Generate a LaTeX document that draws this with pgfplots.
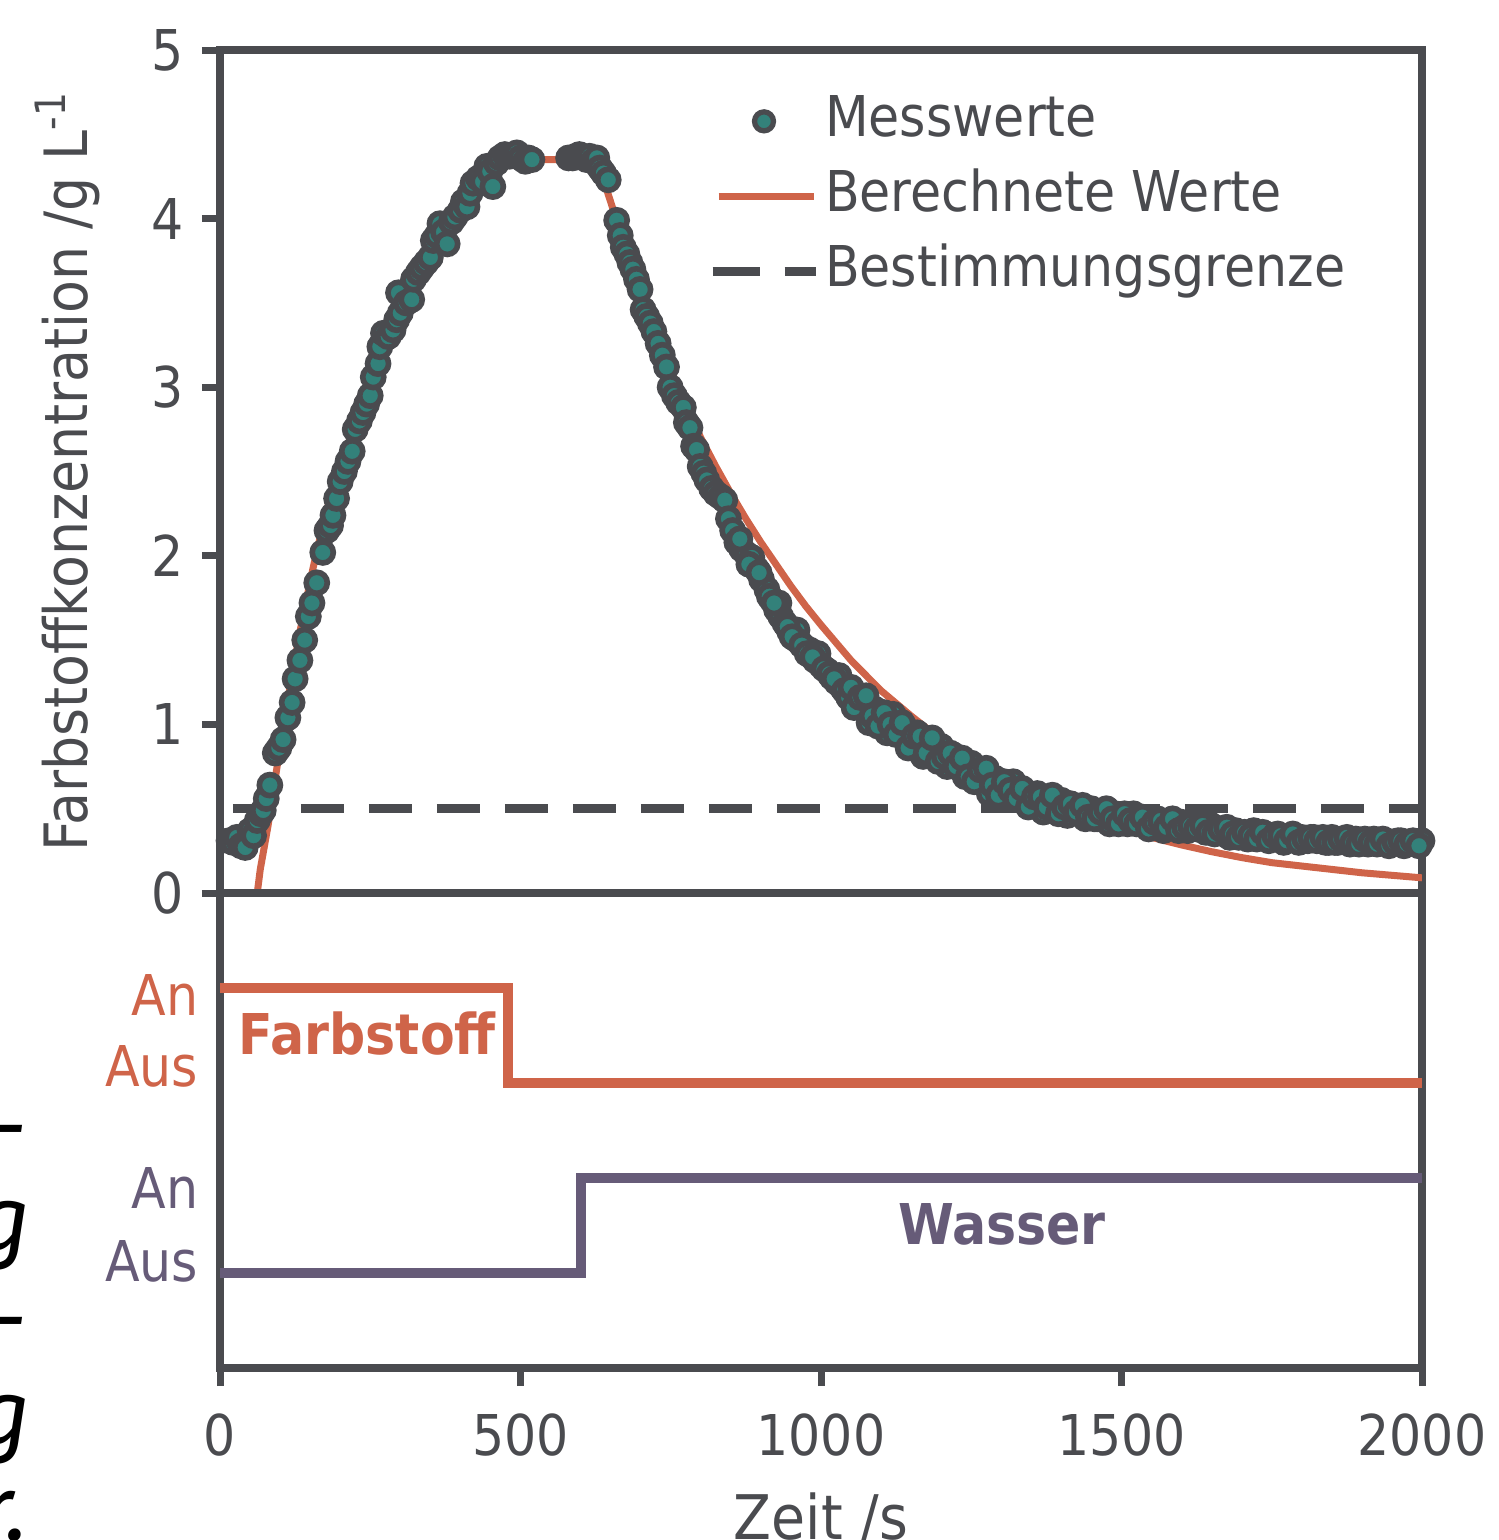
\documentclass[border=0pt]{standalone}
\usepackage{fontspec}
\setmainfont{DejaVu Sans}[FakeStretch=0.9]
\newfontfamily\sidefont{Fira Sans}
\usepackage{pgfplots}
\pgfplotsset{compat=1.18}

\definecolor{axgray}{HTML}{4A4B4F}
\definecolor{farb}{HTML}{CF6449}
\definecolor{mteal}{HTML}{33817A}
\definecolor{wasser}{HTML}{665B78}

\pgfplotsset{
  myaxis/.style={
    scale only axis, width=12.02cm, xmin=0, xmax=2000,
    axis line style={line width=0.08cm, axgray},
    tick style={line width=0.07cm, axgray},
    major tick length=0.18cm, tick align=outside,
    tick label style={font=\fontsize{16}{19}\selectfont, text=axgray},
  },
  legmark/.style={legend image code/.code={%
    \draw[##1] plot coordinates {(0.515cm,0cm)};
    \path (0cm,0cm) (1.03cm,0cm);}},
  legline/.style={legend image code/.code={%
    \draw[##1] (0.06cm,0cm) -- (1.01cm,0cm);}},
  legdash/.style={legend image code/.code={%
    \draw[##1] (0cm,0cm) -- (0.47cm,0cm);
    \draw[##1] (0.72cm,0cm) -- (1.03cm,0cm);}},
}

\begin{document}
\begin{tikzpicture}
\useasboundingbox (0,0) rectangle (14.99,-15.40);
\clip (0,0) rectangle (14.99,-15.40);

% text of the page beside the figure
\begin{scope}[every node/.style={anchor=base east, inner sep=0pt, font=\sidefont\itshape\fontsize{26}{30}\selectfont}]
\node at (0.27,-11.57) {r-};
\node at (0.31,-12.50) {g};
\node at (0.27,-13.49) {r-};
\node at (0.31,-14.44) {g};
\node at (0.29,-15.40) {r.};
\end{scope}

% upper panel
\begin{axis}[myaxis, height=8.43cm, at={(2.20cm,-0.50cm)}, anchor=north west,
  ymin=0, ymax=5, xtick=\empty,
  ytick={0,1,2,3,4,5}, yticklabels={0,1,2,3,4,5}, ytick pos=left,
  yticklabel style={anchor=east, inner sep=0pt, xshift=-0.18cm},
  ylabel={Farbstoffkonzentration /g L\textsuperscript{-1}},
  ylabel style={at={(axis description cs:-0.1265,0.5)}, anchor=center,
    font=\fontsize{17}{20}\selectfont, text=axgray},
  legend style={draw=none, fill=none, at={(axis cs:812,4.755)}, anchor=north west,
    inner sep=0pt, outer sep=0pt, row sep=0.15cm, column sep=0.05cm,
    font=\fontsize{16}{19}\selectfont, text=axgray,
    nodes={inner sep=0pt, text height=0.45cm, text depth=0.15cm}},
  legend cell align=left,
]
% Bestimmungsgrenze
\addplot[forget plot, axgray, line width=0.09cm, dash pattern=on 0.43cm off 0.25cm, dash phase=0.55cm]
  coordinates {(0,0.5) (2000,0.5)};
% Berechnete Werte
\addplot[forget plot, farb, line width=0.07cm] coordinates {
(62,0) (67,0.14) (80,0.40) (95,0.75) (105,0.96) (113,1.15) (123,1.35) (133,1.55)
(145,1.76) (155,1.93) (166,2.10) (180,2.30) (190,2.42) (200,2.52) (212,2.65)
(225,2.78) (250,3.01) (275,3.22) (300,3.42) (325,3.60) (350,3.76) (375,3.90)
(400,4.03) (425,4.14) (450,4.24) (475,4.31) (500,4.35) (627,4.35) (650,4.10)
(675,3.82) (700,3.56) (725,3.33) (750,3.10) (775,2.89) (800,2.70) (825,2.53)
(850,2.37) (875,2.22) (900,2.08) (925,1.95) (950,1.82) (975,1.70) (1000,1.59)
(1050,1.38) (1100,1.20) (1150,1.05) (1200,0.91) (1250,0.80) (1300,0.70)
(1350,0.60) (1400,0.52) (1450,0.45) (1500,0.385) (1550,0.33) (1600,0.285)
(1650,0.245) (1700,0.21) (1750,0.18) (1800,0.16) (1850,0.14) (1900,0.12)
(1950,0.105) (2000,0.09)};
% Messwerte
\addplot[forget plot, only marks, mark=*, mark size=3pt,
  mark options={fill=mteal, draw=axgray, line width=1.6pt}] coordinates {
(15,0.31) (22,0.30) (28,0.33) (35,0.28) (42,0.27) (50,0.37) (56,0.34) (62,0.43)
(68,0.47) (72,0.49) (77,0.56) (83,0.64) (92,0.83) (98,0.86) (105,0.91) (113,1.04)
(120,1.13) (125,1.27) (133,1.38) (141,1.50) (147,1.64) (153,1.72) (161,1.84)
(171,2.02) (178,2.15) (184,2.18) (188,2.24) (194,2.34) (200,2.44) (207,2.50)
(213,2.56) (220,2.62) (225,2.75) (232,2.80) (238,2.85) (244,2.90) (250,2.95)
(255,3.06) (263,3.14) (266,3.24) (272,3.32) (280,3.30) (288,3.34) (294,3.40)
(297,3.56) (300,3.44) (310,3.50) (319,3.52) (322,3.64) (330,3.68) (336,3.71)
(343,3.74) (350,3.77) (355,3.87) (361,3.90) (366,3.97) (372,3.92) (378,3.85)
(385,3.98) (391,4.01) (400,4.05) (405,4.10) (411,4.07) (416,4.15) (421,4.21)
(430,4.24) (437,4.22) (444,4.31) (449,4.28) (454,4.19) (460,4.33) (466,4.36)
(474,4.38) (482,4.37) (488,4.38) (494,4.39) (500,4.36) (508,4.34) (513,4.36)
(519,4.35)
(580,4.36) (587,4.36) (592,4.37) (598,4.38) (604,4.37) (610,4.35) (615,4.37)
(621,4.34) (627,4.36) (632,4.30) (638,4.27) (646,4.23) (660,3.99) (666,3.90)
(671,3.83) (677,3.79) (682,3.74) (687,3.70) (693,3.64) (699,3.58) (704,3.46)
(710,3.42) (716,3.38) (722,3.33) (729,3.26) (736,3.19) (743,3.12) (749,3.00)
(756,2.95) (763,2.91) (771,2.88) (776,2.79) (782,2.76) (788,2.65) (793,2.63)
(799,2.53) (805,2.49) (810,2.45) (818,2.40) (825,2.37) (833,2.35) (840,2.33)
(846,2.22) (853,2.15) (860,2.08) (868,2.04) (876,2.01) (885,1.99) (893,1.92)
(901,1.86) (910,1.80) (918,1.74) (926,1.68) (930,1.72) (933,1.64) (940,1.60)
(948,1.55) (956,1.51) (960,1.56) (964,1.49) (972,1.46) (982,1.44) (990,1.38)
(995,1.42) (1000,1.35) (1010,1.32) (1018,1.28) (1026,1.25) (1030,1.29)
(1035,1.22) (1043,1.19)
(865,2.10) (880,1.95) (897,1.90) (914,1.76) (922,1.72) (944,1.58) (952,1.52)
(968,1.47) (977,1.42) (986,1.40) (1005,1.33) (1014,1.30) (1022,1.27)
(1039,1.20) (1046,1.16)
(1050,1.22) (1060,1.11) (1070,1.13) (1080,1.01) (1090,1.09) (1100,1.03)
(1110,0.95) (1120,1.06) (1130,0.95) (1140,0.98) (1150,0.88) (1160,0.95)
(1170,0.81) (1180,0.88) (1190,0.84) (1200,0.87) (1210,0.75) (1220,0.82)
(1230,0.74) (1240,0.69) (1250,0.77) (1260,0.67) (1270,0.70) (1280,0.59)
(1290,0.68) (1300,0.63) (1310,0.57) (1320,0.66) (1330,0.57) (1340,0.60)
(1350,0.53) (1360,0.59) (1370,0.48) (1380,0.54) (1390,0.52) (1400,0.55)
(1410,0.46) (1420,0.52) (1430,0.47) (1440,0.44) (1450,0.50) (1460,0.44)
(1470,0.47) (1480,0.41) (1490,0.47) (1500,0.44) (1510,0.41) (1520,0.47)
(1530,0.42) (1540,0.44) (1550,0.40) (1560,0.44) (1570,0.37) (1580,0.41)
(1590,0.40) (1600,0.42) (1610,0.37) (1620,0.40) (1630,0.38) (1640,0.36)
(1650,0.40) (1660,0.36) (1670,0.37) (1680,0.33) (1690,0.37) (1700,0.345)
(1710,0.32) (1720,0.37) (1730,0.33) (1740,0.35) (1750,0.32) (1760,0.35)
(1770,0.30) (1780,0.33) (1790,0.32) (1800,0.33) (1810,0.31) (1820,0.33)
(1830,0.31) (1840,0.30) (1850,0.33) (1860,0.30) (1870,0.31) (1880,0.29)
(1890,0.32) (1900,0.305) (1910,0.29) (1920,0.32) (1930,0.30) (1940,0.31)
(1950,0.29) (1960,0.31) (1970,0.28) (1980,0.30) (1990,0.30) (2000,0.31)
(1055,1.10) (1065,1.16) (1075,1.17) (1085,1.05) (1095,0.99) (1105,1.07)
(1115,1.00) (1125,0.94) (1135,1.01) (1145,0.86) (1155,0.93) (1165,0.93)
(1175,0.83) (1185,0.92) (1195,0.78) (1205,0.81) (1215,0.83) (1225,0.75)
(1235,0.80) (1245,0.69) (1255,0.66) (1265,0.73) (1275,0.74) (1285,0.64)
(1295,0.58) (1305,0.66) (1315,0.61) (1325,0.56) (1335,0.62) (1345,0.51)
(1355,0.57) (1365,0.57) (1375,0.51) (1385,0.58) (1395,0.47) (1405,0.51)
(1415,0.53) (1425,0.48) (1435,0.52) (1445,0.45) (1455,0.44) (1465,0.48)
(1475,0.50) (1485,0.44) (1495,0.41) (1505,0.47) (1515,0.43) (1525,0.41)
(1535,0.45) (1545,0.38) (1555,0.42) (1565,0.43) (1575,0.39) (1585,0.44)
(1595,0.37) (1605,0.39) (1615,0.40) (1625,0.38) (1635,0.40) (1645,0.36)
(1655,0.35) (1665,0.38) (1675,0.39) (1685,0.35) (1695,0.33) (1705,0.36)
(1715,0.34) (1725,0.32) (1735,0.36) (1745,0.31) (1755,0.34) (1765,0.34)
(1775,0.31) (1785,0.35) (1795,0.30) (1805,0.32) (1815,0.33) (1825,0.31)
(1835,0.33) (1845,0.30) (1855,0.30) (1865,0.32) (1875,0.33) (1885,0.30)
(1895,0.29) (1905,0.32) (1915,0.30) (1925,0.29) (1935,0.32) (1945,0.28)
(1955,0.30) (1965,0.31) (1975,0.29) (1985,0.31) (1995,0.28)};
\addlegendimage{legmark, only marks, mark=*, mark size=2.7pt,
  mark options={fill=mteal, draw=axgray, line width=1.5pt}}
\addlegendentry{Messwerte}
\addlegendimage{legline, farb, line width=0.07cm}
\addlegendentry{Berechnete Werte}
\addlegendimage{legdash, axgray, line width=0.09cm}
\addlegendentry{Bestimmungsgrenze}
\end{axis}

% lower panel: pumps on/off
\begin{axis}[myaxis, height=4.75cm, at={(2.20cm,-8.93cm)}, anchor=north west,
  ymin=-1, ymax=4,
  xtick={0,500,1000,1500,2000}, xticklabels={0,500,1000,1500,2000}, xtick pos=left,
  xticklabel style={anchor=north, inner sep=0pt, yshift=-0.27cm},
  ytick={0.126,0.895,2.17,2.93},
  yticklabels={{\color{wasser}Aus},{\color{wasser}An},{\color{farb}Aus},{\color{farb}An}},
  ytick pos=left, ytick style={draw=none},
  yticklabel style={anchor=east, inner sep=0pt, xshift=-0.03cm},
  xlabel={Zeit /s},
  xlabel style={at={(axis description cs:0.5,-0.362)}, anchor=base,
    font=\fontsize{17.5}{21}\selectfont, text=axgray},
]
\addplot[const plot, farb, line width=0.1cm] coordinates {(0,3) (480,2) (2000,2)};
\addplot[const plot, wasser, line width=0.1cm] coordinates {(0,0) (600,1) (2000,1)};
\node[anchor=base west, inner sep=0pt, text=farb, font=\bfseries\fontsize{16}{19}\selectfont]
  at (axis cs:30,2.295) {Farbstoff};
\node[anchor=base, inner sep=0pt, text=wasser, font=\bfseries\fontsize{16}{19}\selectfont]
  at (axis cs:1301,0.295) {Wasser};
\end{axis}
\end{tikzpicture}
\end{document}
